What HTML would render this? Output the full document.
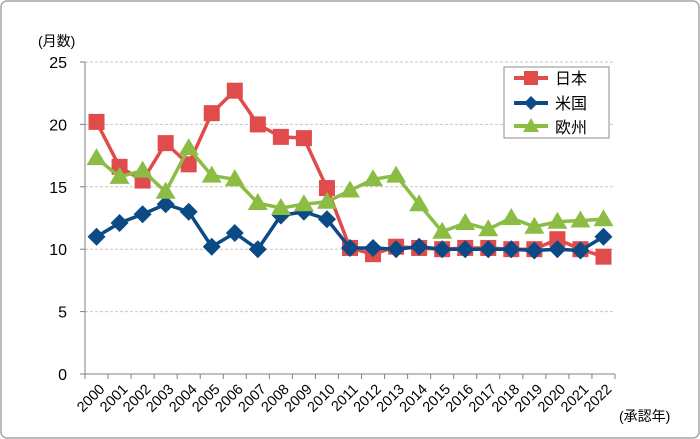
<!DOCTYPE html>
<html><head><meta charset="utf-8"><style>
html,body{margin:0;padding:0;background:#fff}
svg{display:block;font-family:"Liberation Sans","Noto Sans CJK JP",sans-serif}
</style></head><body>
<svg id="c" width="700" height="439">
<rect x="1" y="1" width="698" height="437" rx="6" fill="#fff" stroke="#a6a6a6" stroke-width="1.5"/>
<g id="grid"></g><g id="axes"></g><g id="series"></g>
<text x="38" y="46" font-size="14" fill="#000">(月数)</text>
<text x="619" y="421" font-size="14" fill="#000">(承認年)</text>
<g>
<rect x="504" y="67" width="105" height="71" fill="#fff" stroke="#8c8c8c"/>
<g><line x1="514" y1="78" x2="548" y2="78" stroke="#e04b4b" stroke-width="4"/><rect x="524" y="71" width="14" height="14" fill="#e04b4b"/><text x="555" y="84" font-size="16">日本</text></g>
<g><line x1="514" y1="103" x2="548" y2="103" stroke="#0c4a85" stroke-width="4"/><path d="M531 96 L538 103 L531 110 L524 103Z" fill="#0c4a85"/><text x="555" y="109" font-size="16">米国</text></g>
<g><line x1="514" y1="126" x2="548" y2="126" stroke="#8bbd45" stroke-width="4"/><path d="M531 118 L539 132 L523 132Z" fill="#8bbd45"/><text x="555" y="133" font-size="16">欧州</text></g>
</g>
</svg>
<script>
const years=["2000","2001","2002","2003","2004","2005","2006","2007","2008","2009","2010","2011","2012","2013","2014","2015","2016","2017","2018","2019","2020","2021","2022"];
const japan=[20.2,16.6,15.5,18.5,16.8,20.9,22.7,20.0,19.0,18.9,14.9,10.1,9.6,10.2,10.1,10.0,10.1,10.1,10.0,10.0,10.8,10.0,9.4];
const usa=[11.0,12.1,12.8,13.6,13.0,10.2,11.3,10.0,12.7,13.0,12.4,10.1,10.1,10.0,10.2,10.0,10.0,10.0,10.0,9.9,10.0,9.9,11.0];
const europe=[17.3,15.8,16.3,14.6,18.1,15.9,15.6,13.7,13.3,13.6,13.8,14.7,15.6,15.9,13.6,11.4,12.1,11.6,12.5,11.8,12.2,12.3,12.4];
const yTicks=[0,5,10,15,20,25];
const NS="http://www.w3.org/2000/svg";
const X0=85,X1=615,Y0=374,Y1=62,YMAX=25;
const bw=(X1-X0)/years.length;
const xs=i=>X0+bw*(i+0.5);
const ys=v=>Y0-(v/YMAX)*(Y0-Y1);
function mk(t,a,p){const e=document.createElementNS(NS,t);for(const k in a)e.setAttribute(k,a[k]);p.appendChild(e);return e;}
const grid=document.getElementById('grid'),axes=document.getElementById('axes'),ser=document.getElementById('series');
yTicks.forEach(v=>{
 if(v>0){const g=mk('line',{x1:X0,x2:X1,y1:ys(v),y2:ys(v),stroke:'#c8c8c8','stroke-dasharray':'3,2'},grid);
 
 }
 const t=mk('text',{x:X0-18,y:ys(v)+6,'font-size':16,'text-anchor':'end'},axes);t.textContent=v;
 
 
 mk('line',{x1:X0-5,x2:X0,y1:ys(v),y2:ys(v),stroke:'#808080'},axes);
});
const ya=mk('line',{x1:X0,x2:X0,y1:Y1,y2:Y0,stroke:'#808080'},axes);


const xa=mk('line',{x1:X0,x2:X1,y1:Y0,y2:Y0,stroke:'#808080'},axes);


for(let i=0;i<=years.length;i++)mk('line',{x1:X0+bw*i,x2:X0+bw*i,y1:Y0,y2:Y0+5,stroke:'#808080'},axes);
years.forEach((y,i)=>{
 const x=xs(i)+9,yy=Y0+16;
 const t=mk('text',{x:x,y:yy,'font-size':14.5,'text-anchor':'end',transform:`rotate(-45 ${x} ${yy})`},axes);t.textContent=y;
 
 
});
function series(vals,color,shape,name){
 const g=mk('g',{},ser);
 
 
 mk('polyline',{points:vals.map((v,i)=>xs(i)+','+ys(v)).join(' '),fill:'none',stroke:color,'stroke-width':3.5,'stroke-linejoin':'round'},g);
 vals.forEach((v,i)=>{
  const x=xs(i),y=ys(v);let m;
  if(shape==='sq')m=mk('rect',{x:x-8,y:y-8,width:16,height:16,fill:color},g);
  else if(shape==='di')m=mk('path',{d:`M${x} ${y-9}L${x+9} ${y}L${x} ${y+9}L${x-9} ${y}Z`,fill:color},g);
  else m=mk('path',{d:`M${x} ${y-10}L${x+10} ${y+7}L${x-10} ${y+7}Z`,fill:color},g);
  
  
 });
}
series(japan,'#e04b4b','sq','japan');
series(usa,'#0c4a85','di','us');
series(europe,'#8bbd45','tr','europe');
</script>
</body></html>
